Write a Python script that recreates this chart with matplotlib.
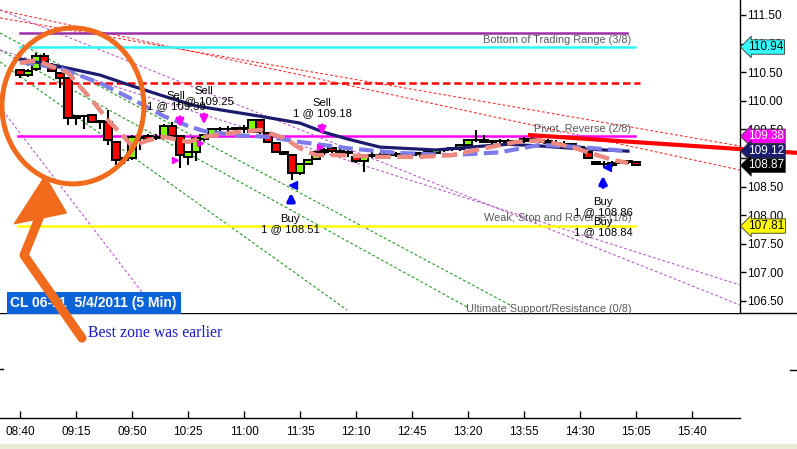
import numpy as np
import matplotlib.pyplot as plt
import matplotlib.transforms as mtransforms
from matplotlib.patches import Ellipse, Polygon, Rectangle
from matplotlib.lines import Line2D

plt.rcParams['font.family'] = ['Liberation Sans', 'DejaVu Sans']

# 5 min bars of CL 06-11, first bar 08:40 (times in minutes after midnight)
bar_start = 8 * 60 + 40
opens = [110.53, 110.45, 110.55, 110.78, 110.63, 110.48, 110.40, 109.70, 109.74, 109.75,
         109.63, 109.63, 109.28, 108.97, 109.00, 109.37, 109.38, 109.35, 109.37, 109.56,
         109.38, 109.02, 109.10, 109.33, 109.40, 109.50, 109.51, 109.50, 109.52, 109.46,
         109.66, 109.43, 109.26, 109.10, 109.05, 108.73, 108.90, 108.99, 109.10, 109.17,
         109.12, 109.10, 109.02, 108.94, 109.04, 109.06, 109.05, 109.07, 109.06, 109.05,
         109.07, 109.08, 109.09, 109.14, 109.15, 109.15, 109.23, 109.31, 109.32, 109.28,
         109.29, 109.30, 109.28, 109.30, 109.33, 109.31, 109.30, 109.27, 109.25, 109.24,
         109.20, 109.10, 108.93, 108.89, 108.88, 108.91, 108.93, 108.93]
highs = [110.56, 110.55, 110.83, 110.83, 110.66, 110.50, 110.42, 109.76, 109.76, 109.77,
         109.66, 109.84, 109.30, 109.00, 109.40, 109.58, 109.42, 109.42, 109.60, 109.63,
         109.40, 109.10, 109.36, 109.42, 109.52, 109.55, 109.56, 109.55, 109.58, 109.68,
         109.68, 109.45, 109.28, 109.12, 109.07, 108.92, 108.99, 109.12, 109.18, 109.20,
         109.15, 109.14, 109.06, 109.03, 109.10, 109.09, 109.10, 109.10, 109.09, 109.10,
         109.11, 109.14, 109.16, 109.18, 109.20, 109.24, 109.33, 109.49, 109.40, 109.32,
         109.33, 109.34, 109.32, 109.36, 109.38, 109.34, 109.33, 109.31, 109.30, 109.27,
         109.23, 109.12, 108.95, 108.95, 108.94, 108.96, 108.96, 108.95]
lows = [110.40, 110.42, 110.52, 110.60, 110.50, 110.22, 109.58, 109.58, 109.50, 109.62,
        109.50, 109.23, 108.88, 108.90, 108.96, 109.14, 109.30, 109.32, 109.35, 109.36,
        108.83, 108.88, 108.95, 109.30, 109.38, 109.46, 109.45, 109.47, 109.44, 109.44,
        109.42, 109.26, 109.08, 109.05, 108.62, 108.70, 108.87, 108.97, 109.05, 109.08,
        109.05, 109.02, 108.92, 108.76, 109.00, 109.01, 109.00, 109.02, 109.01, 109.01,
        109.02, 109.06, 109.07, 109.10, 109.12, 109.12, 109.20, 109.28, 109.26, 109.25,
        109.25, 109.26, 109.24, 109.27, 109.29, 109.27, 109.25, 109.22, 109.20, 109.17,
        109.12, 108.98, 108.87, 108.84, 108.85, 108.89, 108.90, 108.87]
closes = [110.45, 110.52, 110.78, 110.68, 110.52, 110.40, 109.70, 109.74, 109.73, 109.63,
          109.64, 109.31, 108.97, 109.00, 109.37, 109.35, 109.33, 109.37, 109.56, 109.39,
          109.05, 109.10, 109.35, 109.40, 109.50, 109.51, 109.50, 109.52, 109.50, 109.66,
          109.45, 109.28, 109.10, 109.07, 108.73, 108.90, 108.97, 109.10, 109.14, 109.12,
          109.10, 109.08, 108.94, 109.02, 109.06, 109.05, 109.07, 109.06, 109.05, 109.07,
          109.08, 109.12, 109.14, 109.15, 109.17, 109.23, 109.31, 109.32, 109.28, 109.29,
          109.30, 109.28, 109.30, 109.33, 109.31, 109.30, 109.27, 109.25, 109.24, 109.20,
          109.15, 109.00, 108.89, 108.90, 108.91, 108.93, 108.94, 108.87]

# moving averages at some bars (bar index, price)
navy_bar = [0, 6, 10, 14, 18, 22, 26, 30, 35, 38, 41, 45, 52, 58, 61, 65, 69, 73, 76]
navy_val = [110.73, 110.57, 110.45, 110.26, 110.08, 109.91, 109.82, 109.73, 109.61, 109.45,
            109.33, 109.19, 109.14, 109.21, 109.24, 109.21, 109.17, 109.14, 109.12]
blue_bar = [0, 5, 10, 14, 18, 21, 23, 27, 31, 35, 41, 47, 54, 60, 65, 70, 76]
blue_val = [110.68, 110.57, 110.31, 110.03, 109.73, 109.56, 109.47, 109.40, 109.37, 109.28,
            109.17, 109.09, 109.05, 109.10, 109.23, 109.19, 109.12]
salmon_bar = [0, 2, 6, 9, 11, 13, 14, 16, 18, 21, 23, 27, 30, 33, 35, 37, 40, 45, 50, 54,
              58, 62, 65, 69, 71, 74, 76]
salmon_val = [110.66, 110.71, 110.49, 110.01, 109.66, 109.37, 109.21, 109.31, 109.37, 109.28,
              109.37, 109.45, 109.49, 109.35, 109.17, 109.05, 109.05, 109.02, 109.02, 109.05,
              109.17, 109.28, 109.31, 109.19, 109.10, 108.97, 108.91]

# Murrey math levels: price, start, end, colour, style
level_price = [111.19, 110.94, 110.31, 109.38, 107.81]
level_start = [520.0, 520.0, 516.9, 518.75, 518.75]
level_end = [899.4, 904.4, 907.5, 904.4, 904.4]
level_color = ['#9b2fa8', '#2bf5f5', '#ff0000', '#ff00ff', '#ffff00']
level_style = ['-', '-', (0, (3, 1.5)), '-', '-']
level_text = ['Bottom of Trading Range (3/8)', 'Pivot, Reverse (2/8)',
              'Weak, Stop and Reverse (1/8)', 'Ultimate Support/Resistance (0/8)']
level_text_price = [111.06, 109.51, 107.95, 106.36]

# fan lines (t0, p0, t1, p1)
fan_lines = [
    (507.5, 111.448, 970.0, 109.210, '#ff3030'),
    (507.5, 111.587, 970.0, 108.790, '#ff3030'),
    (507.5, 111.185, 826.25, 106.430, '#229922'),
    (507.5, 110.888, 799.4, 106.395, '#229922'),
    (507.5, 110.678, 724.4, 106.343, '#229922'),
    (507.5, 109.892, 606.25, 106.290, '#b85cc8'),
    (507.5, 111.587, 970.0, 106.430, '#b85cc8'),
    (507.5, 110.888, 970.0, 106.780, '#b85cc8'),
]
trend_t = [838.75, 1005.6]
trend_p = [109.40, 109.09]

# trades
sell_t = [620.0, 635.0, 708.75]
sell_from = [109.77, 109.82, 109.63]
sell_to = [109.49, 109.54, 109.35]
sell_label = ['Sell\n1 @ 109.39', 'Sell\n1 @ 109.25', 'Sell\n1 @ 109.18']
sell_label_t = [617.5, 635.0, 708.75]
sell_label_p = [109.99, 110.08, 109.87]
buy_t = [689.4, 884.4]
buy_from = [108.18, 108.44]
buy_to = [108.44, 108.74]
buy_label = ['Buy\n1 @ 108.51', 'Buy\n1 @ 108.86\nBuy\n1 @ 108.84']
buy_label_t = [688.75, 884.4]
buy_label_p = [107.85, 107.97]
fill_sell_t = [616.9, 632.5, 707.5]
fill_sell_p = [108.965, 109.26, 109.19]
fill_buy_t = [690.6, 886.9]
fill_buy_p = [108.53, 108.84]

# value tags on the price axis
tag_price = [110.94, 109.38, 109.12, 108.87, 107.81]
tag_face = ['#33ffff', '#ff00ff', '#1c1c6e', '#000000', '#ffff00']
tag_textc = ['black', 'white', 'white', 'white', 'black']

time_labels = ['08:40', '09:15', '09:50', '10:25', '11:00', '11:35', '12:10',
               '12:45', '13:20', '13:55', '14:30', '15:05', '15:40']

times = bar_start + 5 * np.arange(len(opens))
W, H = 797, 449
fig = plt.figure(figsize=(W / 100, H / 100), dpi=100)
ax = fig.add_axes([0, 136 / H, 740 / W, 313 / H])
axl = fig.add_axes([0, 31 / H, 740 / W, 105 / H])
axl.patch.set_visible(False)
ax.set_zorder(2)

ax.set_xlim(507.5, 970)
ax.set_ylim(106.29, 111.762)
axl.set_xlim(507.5, 970)
axl.set_ylim(0, 1)

for lp, ls_, le, lc, lst in zip(level_price, level_start, level_end, level_color, level_style):
    ax.plot([ls_, le], [lp, lp], color=lc, lw=1.8, ls=lst, zorder=2)
for txt, tp in zip(level_text, level_text_price):
    ax.text(902.0, tp, txt, ha='right', va='center', fontsize=7.9, color='#5a5a5a', zorder=3)

for t0, p0, t1, p1, c in fan_lines:
    ax.plot([t0, t1], [p0, p1], color=c, lw=0.8, ls=(0, (2.5, 2)), zorder=1)
ax.plot(trend_t, trend_p, color='#ff0000', lw=3, zorder=6, clip_on=False)

# candles
o = np.array(opens)
c = np.array(closes)
cols = ['#7fff00' if cc >= oo else '#ff0000' for oo, cc in zip(o, c)]
ax.vlines(times, lows, highs, color='black', lw=1.5, zorder=4)
ax.bar(times, c - o, bottom=o, width=4.6, color=cols, edgecolor='black', lw=1.4, zorder=4)

# moving averages
ax.plot(bar_start + 5 * np.array(navy_bar), navy_val, color='#1c1c6e', lw=2.3, zorder=5)
ax.plot(bar_start + 5 * np.array(blue_bar), blue_val, color='#7b7bea', lw=3,
        ls=(0, (3.5, 1.5)), zorder=5)
ax.plot(bar_start + 5 * np.array(salmon_bar), salmon_val, color='#ec8a80', lw=3.2,
        ls=(0, (3.5, 1.5)), zorder=5)

# trade arrows and labels
for t, a, b in zip(sell_t, sell_from, sell_to):
    ax.annotate('', xy=(t, b), xytext=(t, a), zorder=7,
                arrowprops=dict(arrowstyle='-|>', color='#ff00ff', lw=2, mutation_scale=11))
for t, a, b in zip(buy_t, buy_from, buy_to):
    ax.annotate('', xy=(t, b), xytext=(t, a), zorder=7,
                arrowprops=dict(arrowstyle='-|>', color='#0000ff', lw=2.5, mutation_scale=11))
for txt, t, p in zip(sell_label + buy_label, sell_label_t + buy_label_t, sell_label_p + buy_label_p):
    ax.text(t, p, txt, ha='center', va='center', fontsize=8.1, linespacing=1.0, zorder=7)
ax.plot(fill_sell_t, fill_sell_p, ls='none', marker='>', ms=5, color='#ff00ff', zorder=7)
ax.plot(fill_buy_t, fill_buy_p, ls='none', marker='<', ms=6, color='#0000ff', zorder=7)

# price axis
ax.yaxis.tick_right()
ax.set_yticks(np.arange(106.5, 111.6, 0.5))
ax.set_yticklabels(['%.2f' % v for v in np.arange(106.5, 111.6, 0.5)])
ax.tick_params(axis='y', direction='out', length=4, width=1, pad=1, labelsize=8.5)
ax.set_xticks([])
for s in ['top', 'left', 'bottom']:
    ax.spines[s].set_visible(False)
ax.spines['right'].set_linewidth(1)

trans = mtransforms.blended_transform_factory(ax.transAxes, ax.transData)
for tp, fc, tc in zip(tag_price, tag_face, tag_textc):
    ax.text(1.0 + 8 / 740, tp, '%.2f' % tp, transform=trans, fontsize=8.5, color=tc,
            va='center', ha='left', zorder=8, clip_on=False,
            bbox=dict(boxstyle='larrow,pad=0.1', facecolor=fc, edgecolor='#333333', lw=0.6))

# chart title box
ax.text(514.0, 106.46, 'CL 06-11  5/4/2011 (5 Min)', color='white', fontsize=10,
        fontweight='bold', va='center', ha='left', zorder=8,
        bbox=dict(boxstyle='square,pad=0.28', facecolor='#0b63d9', edgecolor='none'))

# orange remark
orange = '#f26a1b'
ax.add_patch(Ellipse((553.1, 109.91), 88.75, 2.727, fill=False, edgecolor=orange,
                     lw=3.6, zorder=9, clip_on=False))
ax.plot([532.5, 522.5, 558.75], [107.99, 107.30, 105.85], color=orange, lw=6.5,
        solid_capstyle='round', solid_joinstyle='round', zorder=9, clip_on=False)
ax.add_patch(Polygon([(535.6, 108.68), (516.5, 107.85), (549.0, 108.04)], closed=True,
                     color=orange, zorder=9, clip_on=False))
axl.text(562.5, 0.81, 'Best zone was earlier', family=['Liberation Serif', 'DejaVu Serif'],
         fontsize=11.3, color='#1a1acd', va='center', ha='left')

# time axis
tick_pos = [int(s[:2]) * 60 + int(s[3:]) for s in time_labels]
axl.set_xticks(tick_pos)
axl.set_xticklabels(time_labels)
axl.set_yticks([])
axl.tick_params(axis='x', direction='in', length=5, width=1, pad=6, labelsize=8.5)
for s in ['top', 'left', 'right']:
    axl.spines[s].set_visible(False)
axl.spines['bottom'].set_linewidth(1)

fig.add_artist(Line2D([0, 1], [136 / H, 136 / H], color='black', lw=1))
fig.add_artist(Line2D([0, 3 / W], [80 / H, 80 / H], color='black', lw=1))
fig.add_artist(Line2D([790 / W, 1], [79 / H, 79 / H], color='black', lw=1))
fig.add_artist(Rectangle((0, 0), 1, 5 / H, transform=fig.transFigure, color='#ece9d8'))

fig.savefig('out.png', dpi=100)
